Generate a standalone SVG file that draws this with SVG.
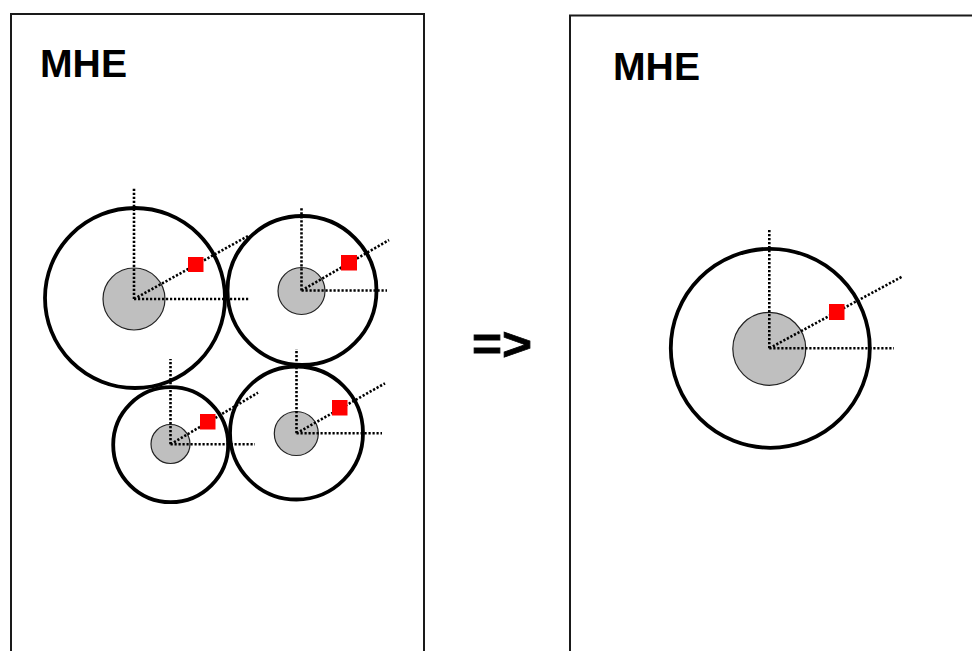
<svg xmlns="http://www.w3.org/2000/svg" width="972" height="651" viewBox="0 0 972 651">
<style>
.frame{fill:none;stroke:#1a1a1a;stroke-width:2}
.title{font-family:"Liberation Sans",Arial,sans-serif;font-weight:bold;font-size:38px;fill:#000}
.outer{fill:none;stroke:#000;stroke-width:3.8}
.inner{fill:#bfbfbf;stroke:#222;stroke-width:1.2}
.dot{fill:none;stroke:#000;stroke-width:2.6;stroke-dasharray:2.2 1.8}
.sq{fill:#ff0000}
</style>
<rect width="972" height="651" fill="#fff"/>
<g id="left-panel">
<path class="frame" d="M11,660 V14 H424 V660"/>
<text class="title" x="40" y="77" textLength="87" lengthAdjust="spacingAndGlyphs">MHE</text>
</g>
<g id="right-panel">
<path class="frame" d="M570,660 V15.5 H980"/>
<text class="title" x="613" y="80" textLength="87" lengthAdjust="spacingAndGlyphs">MHE</text>
</g>
<g id="arrow-label">
<text x="472" y="360" font-family="Liberation Sans,Arial,sans-serif" font-weight="bold" font-size="46" stroke="#000" stroke-width="0.8" textLength="60" lengthAdjust="spacingAndGlyphs">=&gt;</text>
</g>
<g id="c1">
<circle class="outer" cx="135" cy="298" r="90"/>
<circle class="inner" cx="134" cy="299" r="31"/>
<path class="dot" d="M134,299 V188 M134,299 H250 M134,299 L248,236"/>
<rect class="sq" x="188" y="257" width="15.5" height="15"/>
</g>
<g id="c2">
<circle class="outer" cx="302" cy="290.5" r="74.5"/>
<circle class="inner" cx="301.5" cy="291" r="23.5"/>
<path class="dot" d="M301.5,290.5 V207 M301.5,290.5 H387 M301.5,290.5 L389,240"/>
<rect class="sq" x="341" y="255" width="16" height="15.5"/>
</g>
<g id="c3">
<circle class="outer" cx="170.7" cy="444.7" r="57.5"/>
<circle class="inner" cx="170.5" cy="444" r="19.5"/>
<path class="dot" d="M170.5,444.3 V359 M170.5,444.3 H255 M170.5,444.3 L258,392.7"/>
<rect class="sq" x="200" y="414" width="15.5" height="15.5"/>
</g>
<g id="c4">
<circle class="outer" cx="296.5" cy="433" r="66.5"/>
<circle class="inner" cx="296.3" cy="433.5" r="22"/>
<path class="dot" d="M296.5,433.3 V349 M296.5,433.3 H382 M296.5,433.3 L385,383.3"/>
<rect class="sq" x="332" y="400" width="15.5" height="15.5"/>
</g>
<g id="c5">
<circle class="outer" cx="770.3" cy="348.3" r="99.5"/>
<circle class="inner" cx="769.3" cy="348.8" r="36.5"/>
<path class="dot" d="M769.3,348.3 V230 M769.3,348.3 H894 M769.3,348.3 L902,276.7"/>
<rect class="sq" x="829" y="304" width="15.5" height="16"/>
</g>
</svg>
